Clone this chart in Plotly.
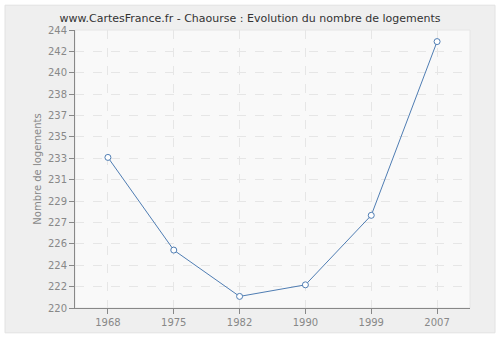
import plotly.graph_objects as go

years = ["1968", "1975", "1982", "1990", "1999", "2007"]
values = [233, 225, 221, 222, 228, 243]

y_min, y_max = 220, 244
tick_labels = ["220", "222", "224", "226", "227", "229", "231", "233", "235", "237", "238", "240", "242", "244"]
n = len(tick_labels) - 1
tick_vals = [y_min + (y_max - y_min) * i / n for i in range(n + 1)]

W, H = 500, 340
L, R, T, B = 75, 30, 30, 30
pw, ph = W - L - R, H - T - B

def px(x):
    return (x - L) / pw

def py(y):
    return (H - B - y) / ph

fig = go.Figure()
fig.add_trace(go.Scatter(
    x=years, y=values, mode="lines+markers",
    line=dict(color="#4f7db3", width=1),
    marker=dict(symbol="circle", size=6, color="white",
                line=dict(color="#4f7db3", width=1)),
    showlegend=False, cliponaxis=False,
))

fig.add_shape(type="rect", xref="paper", yref="paper", layer="below",
              x0=px(5), x1=px(495), y0=py(335), y1=py(5),
              fillcolor="#efefef", line=dict(color="#e2e2e2", width=1))
fig.add_shape(type="rect", xref="paper", yref="paper", layer="below",
              x0=0, x1=1, y0=0, y1=1,
              fillcolor="#f9f9f9", line=dict(color="#e6e6e6", width=1))

fig.update_layout(
    width=W, height=H,
    margin=dict(l=L, r=R, t=T, b=B),
    paper_bgcolor="white",
    plot_bgcolor="rgba(0,0,0,0)",
    font=dict(family="DejaVu Sans, Verdana, sans-serif", size=11, color="#888888"),
    title=dict(text="www.CartesFrance.fr - Chaourse : Evolution du nombre de logements",
               x=0.5, xanchor="center", y=1 - 18 / H, yanchor="middle",
               font=dict(size=11, color="#333333")),
)
fig.update_xaxes(
    type="category", range=[-0.5, 5.5],
    showline=True, linecolor="#888888", linewidth=1,
    ticks="outside", ticklen=5, tickcolor="#888888",
    showgrid=True, gridcolor="#e6e6e6", griddash="dash", gridwidth=1,
    tickfont=dict(size=10, color="#888888"), zeroline=False,
)
fig.update_yaxes(
    range=[y_min, y_max], tickmode="array", tickvals=tick_vals, ticktext=tick_labels,
    showline=True, linecolor="#888888", linewidth=1,
    ticks="outside", ticklen=5, tickcolor="#888888",
    showgrid=True, gridcolor="#e6e6e6", griddash="dash", gridwidth=1,
    tickfont=dict(size=10, color="#888888"), zeroline=False,
    title=dict(text="Nombre de logements", font=dict(size=10, color="#888888"), standoff=4),
)

fig.write_html("out.html")
